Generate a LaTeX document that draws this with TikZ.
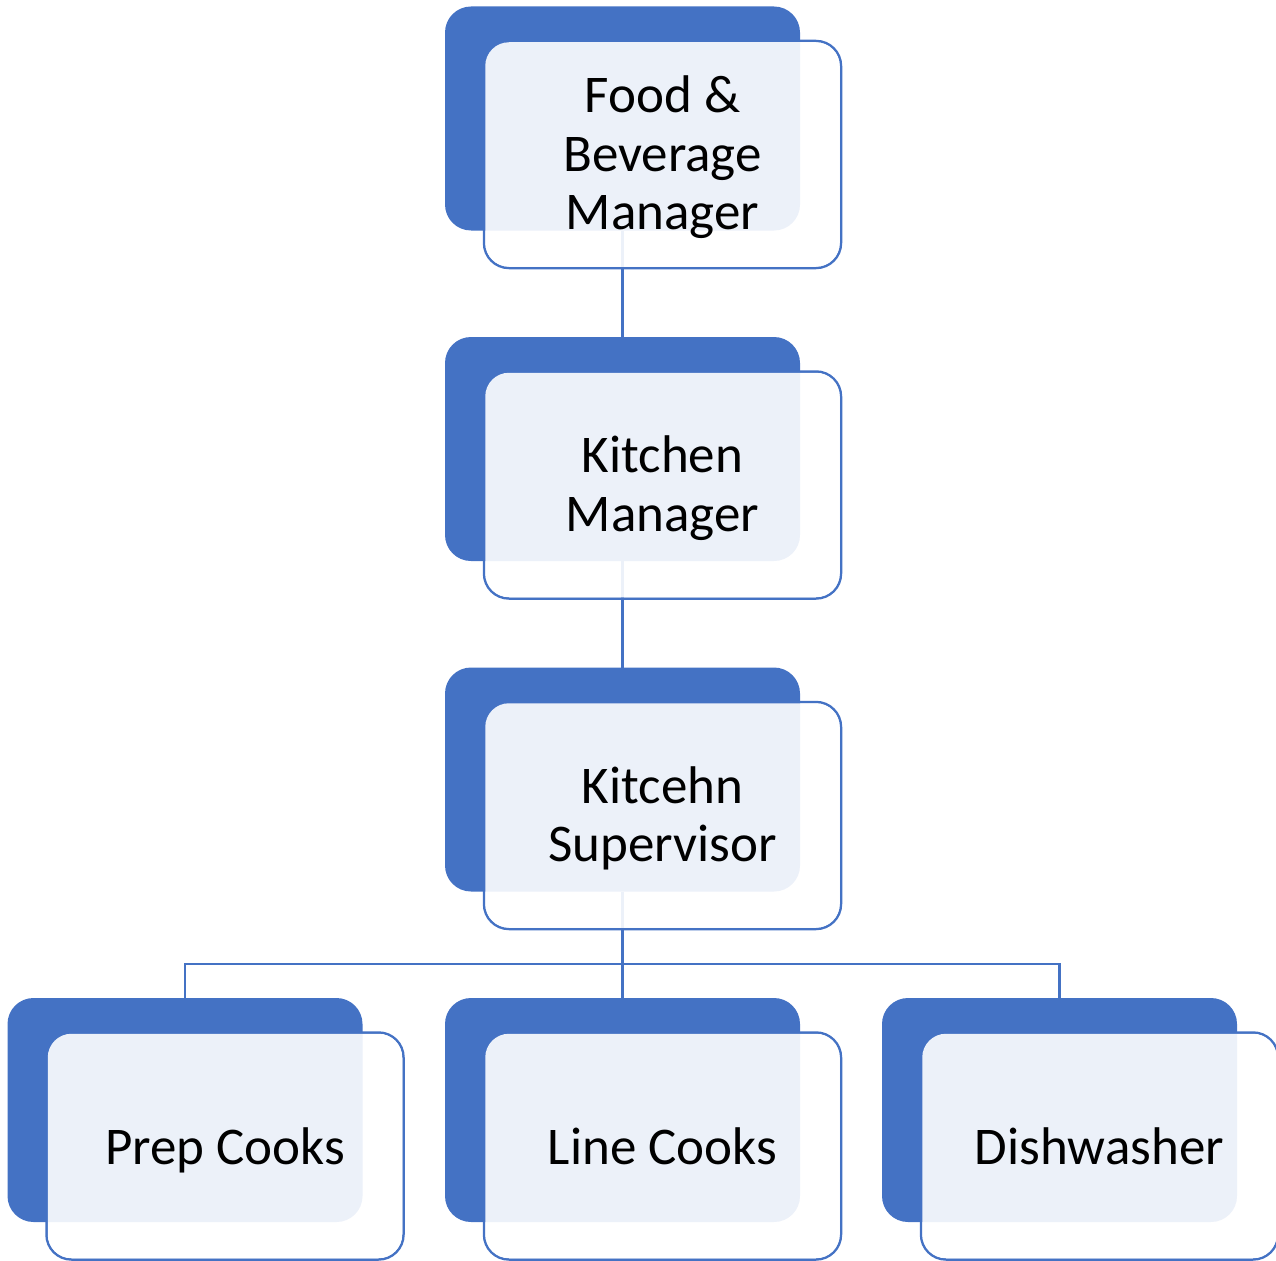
\documentclass[tikz,border=0pt]{standalone}
\usepackage{fontspec}
\setmainfont{Carlito}
\definecolor{accent}{HTML}{4472C4}
\pgfdeclarelayer{edges}
\pgfsetlayers{edges,main}
\begin{document}
\begin{tikzpicture}[x=1pt,y=-1pt,
  backbox/.style={fill=accent, rounded corners=26pt, minimum width=355pt, minimum height=224pt, inner sep=0pt, outer sep=0pt},
  frontedge/.style={draw=accent, line width=2.5pt, rounded corners=25pt, minimum width=357pt, minimum height=227pt, inner sep=0pt, outer sep=0pt},
  glassfill/.style={fill=white, fill opacity=0.9, rounded corners=23.75pt},
  boxtext/.style={font=\fontsize{53}{58.5}\selectfont, align=center, text=black, inner sep=0pt},
  orgline/.style={draw=accent, line width=2.5pt}]
\useasboundingbox (0,0) rectangle (1276,1260);
% back boxes
\node[backbox] (b1) at (622.5,118.5) {};
\node[backbox] (b2) at (622.5,449) {};
\node[backbox] (b3) at (622.5,779.5) {};
\node[backbox] (b4) at (185,1110) {};
\node[backbox] (b5) at (622.5,1110) {};
\node[backbox] (b6) at (1059.5,1110) {};
\begin{pgfonlayer}{edges}
  \node[frontedge] (f1) at (662.5,154.5) {};
  \node[frontedge] (f2) at (662.5,485) {};
  \node[frontedge] (f3) at (662.5,815.5) {};
  \node[frontedge] (f4) at (225,1146) {};
  \node[frontedge] (f5) at (662.5,1146) {};
  \node[frontedge] (f6) at (1099.5,1146) {};
  \coordinate (bus) at (622.5,964);
  \draw[orgline] (b1.south) -- (b2.north);
  \draw[orgline] (b2.south) -- (b3.north);
  \draw[orgline] (b3.south) -- (b5.north);
  \draw[orgline] (b4.north) |- (bus) -| (b6.north);
\end{pgfonlayer}
% translucent front fills
\foreach \f in {f1,f2,f3,f4,f5,f6}{
  \path[glassfill] ([shift={(1.25,1.25)}]\f.north west) rectangle ([shift={(-1.25,-1.25)}]\f.south east);
}
\node[boxtext] (t1) at ([yshift=-3pt]f1.center) {Food \&\\Beverage\\Manager};
\node[boxtext] (t2) at ([yshift=-3pt]f2.center) {Kitchen\\Manager};
\node[boxtext] (t3) at ([yshift=-3pt]f3.center) {Kitcehn\\Supervisor};
\node[boxtext, text depth=0pt] (t4) at (f4.center) {Prep Cooks};
\node[boxtext] (t5) at (f5.center) {Line Cooks};
\node[boxtext] (t6) at (f6.center) {Dishwasher};
\end{tikzpicture}
\end{document}
